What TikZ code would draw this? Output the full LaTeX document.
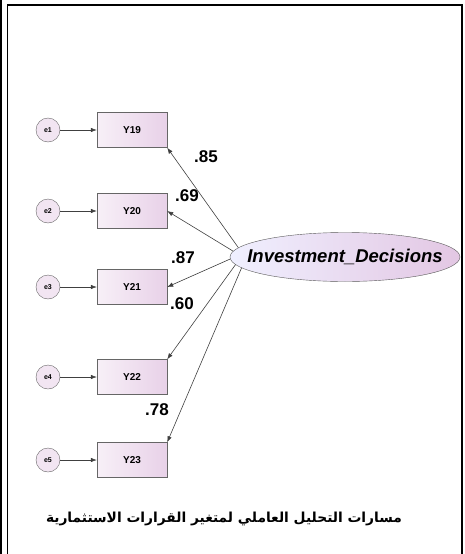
\documentclass[tikz,border=0pt]{standalone}
\usepackage{fontspec}
\setmainfont{Liberation Sans}
\newfontfamily\arabicfont[Script=Arabic]{DejaVu Sans}
\TeXXeTstate=1
\usetikzlibrary{shapes.geometric,arrows.meta}

\begin{document}
\begin{tikzpicture}[x=1pt,y=-1pt]
\tikzset{
    obsbox/.style={draw=gray!80!black, left color=violet!6, right color=violet!18,
        minimum width=70pt, minimum height=35pt, font=\fontsize{10}{12}\selectfont\bfseries},
    errcirc/.style={circle, draw=gray!80!black, fill=violet!10, minimum size=24pt,
        inner sep=0pt, font=\fontsize{7}{8}\selectfont\bfseries},
    latent/.style={ellipse, draw=gray!70!black, left color=blue!6, right color=violet!22,
        minimum width=230pt, minimum height=49pt, inner xsep=-24pt, inner ysep=0pt,
        font=\fontsize{18.5}{20}\selectfont\bfseries\itshape},
    loading/.style={font=\fontsize{17}{18}\selectfont\bfseries},
    path/.style={draw=black!75, line width=0.6pt, -{Latex[length=6pt,width=4.5pt]}}
}
\useasboundingbox (0,0) rectangle (464,554);
% Frame
\draw[line width=2pt] (1,0) -- (1,554);
\draw[line width=1.5pt] (7.5,554) -- (7.5,5) -- (462,5) -- (462,554);
% Indicators
\node[errcirc] (e1) at (48,130){e1};
\node[errcirc] (e2) at (48,211){e2};
\node[errcirc] (e3) at (48,287){e3};
\node[errcirc] (e4) at (48,377){e4};
\node[errcirc] (e5) at (48,460){e5};
\node[obsbox] (y19) at (132,130){Y19};
\node[obsbox] (y20) at (132,211){Y20};
\node[obsbox] (y21) at (132,287){Y21};
\node[obsbox] (y22) at (132,377){Y22};
\node[obsbox] (y23) at (132,460){Y23};
\draw[path] (e1) -- (y19);
\draw[path] (e2) -- (y20);
\draw[path] (e3) -- (y21);
\draw[path] (e4) -- (y22);
\draw[path] (e5) -- (y23);
% Factor
\node[latent] (inv) at (345,257){Investment\_Decisions};
\draw[path] (inv.175) -- (y19.south east);
\draw[path] (inv.177.5) -- (y20.east);
\draw[path] (inv.181.5) -- (y21.east);
\draw[path] (inv.184) -- (y22.north east);
\draw[path] (inv.186.5) -- (y23.north east);
\node[loading] (l85) at (206,157){.85};
\node[loading] (l69) at (187,196){.69};
\node[loading] (l87) at (183,258){.87};
\node[loading] (l60) at (182,304){.60};
\node[loading] (l78) at (157,410){.78};
\node[font=\arabicfont\fontsize{13.8}{15}\selectfont\bfseries] (caption) at (224,519)
    {\beginR مسارات التحليل العاملي لمتغير القرارات الاستثمارية\endR};
\end{tikzpicture}
\end{document}
